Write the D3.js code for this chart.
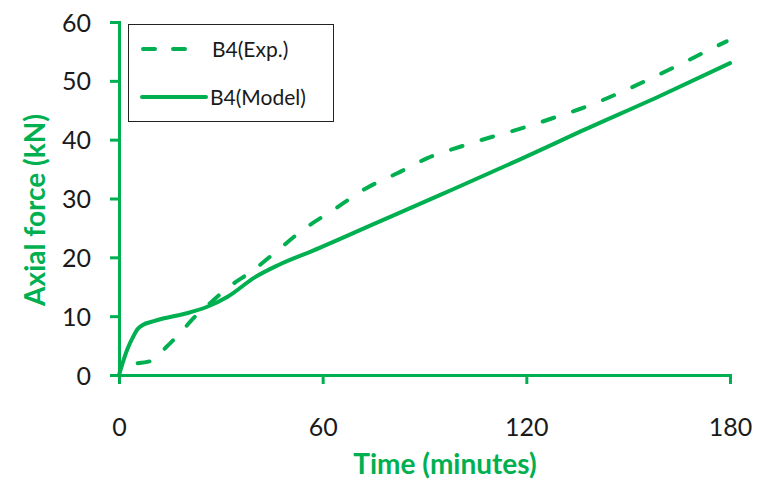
<!DOCTYPE html>
<html>
<head>
<meta charset="utf-8">
<script src="https://cdn.jsdelivr.net/npm/d3@7"></script>
<style>
  html, body { margin: 0; padding: 0; background: #fff; }
  svg { display: block; }
  text { font-family: Lato, "Open Sans", sans-serif; }
</style>
</head>
<body>
<svg id="chart" width="770" height="480"></svg>
<script>
// ---- data ----
const xTicks = [0, 60, 120, 180];
const yTicks = [0, 10, 20, 30, 40, 50, 60];
const seriesNames = ["B4(Exp.)", "B4(Model)"];

const expTime  = [5.5, 10, 14, 18, 22, 27, 32, 39.5, 47, 54, 63, 73, 82, 91, 100.5, 110, 119, 129, 139, 148, 157, 166, 175, 179];
const expForce = [2.0, 2.5, 4.8, 7.1, 9.7, 12.3, 14.8, 17.8, 21.3, 24.6, 28.0, 31.8, 34.3, 36.9, 38.8, 40.5, 42.0, 43.9, 45.9, 48.1, 50.5, 53.0, 55.6, 56.7];

const modelTime  = [0, 2.4, 4, 5.5, 7, 10, 13, 20, 26, 32, 40, 47, 57, 76, 95, 118, 136, 160, 180];
const modelForce = [0, 4.3, 6.3, 7.8, 8.5, 9.1, 9.6, 10.5, 11.6, 13.3, 16.6, 18.7, 21.1, 25.9, 30.7, 36.6, 41.4, 47.6, 53.0];

// ---- layout ----
const green = "#00B050";
const svg = d3.select("#chart");
const x = d3.scaleLinear().domain([0, 180]).range([119, 730]);
const y = d3.scaleLinear().domain([0, 60]).range([375, 22]);

const expData = expTime.map((t, i) => [t, expForce[i]]);
const modelData = modelTime.map((t, i) => [t, modelForce[i]]);

// axes
const yAxis = svg.append("g").attr("transform", `translate(${x(0)},0)`)
  .call(d3.axisLeft(y).tickValues(yTicks).tickSize(9).tickSizeOuter(9).tickPadding(19).tickFormat(d3.format("d")));
const xAxis = svg.append("g").attr("transform", `translate(0,${y(0)})`)
  .call(d3.axisBottom(x).tickValues(xTicks).tickSize(9).tickSizeOuter(9).tickPadding(34).tickFormat(d3.format("d")));

[yAxis, xAxis].forEach(g => {
  g.select(".domain").attr("stroke", green).attr("stroke-width", 3);
  g.selectAll(".tick line").attr("stroke", green).attr("stroke-width", 3);
  g.selectAll(".tick text").attr("fill", "#1a1a1a").style("font-size", "25px")
    .style("font-family", "Lato, 'Open Sans', sans-serif");
});
yAxis.selectAll(".tick text").attr("dy", "0.36em");

// lines
const line = d3.line().x(d => x(d[0])).y(d => y(d[1])).curve(d3.curveMonotoneX);

svg.append("path").datum(modelData)
  .attr("d", line).attr("fill", "none").attr("stroke", green)
  .attr("stroke-width", 4).attr("stroke-linejoin", "round").attr("stroke-linecap", "round");

svg.append("path").datum(expData)
  .attr("d", line).attr("fill", "none").attr("stroke", green)
  .attr("stroke-width", 4).attr("stroke-dasharray", "12,20").attr("stroke-linecap", "round");

// axis titles
svg.append("text").attr("x", 445).attr("y", 474).attr("text-anchor", "middle")
  .attr("fill", green).style("font-size", "28px").style("font-weight", "bold")
  .text("Time (minutes)");

svg.append("text").attr("transform", "translate(45,210) rotate(-90)").attr("text-anchor", "middle")
  .attr("fill", green).style("font-size", "28px").style("font-weight", "bold")
  .text("Axial force (kN)");

// legend
const lg = svg.append("g");
lg.append("rect").attr("x", 128.5).attr("y", 24.5).attr("width", 205).attr("height", 97)
  .attr("fill", "#fff").attr("stroke", "#222").attr("stroke-width", 1);
lg.append("line").attr("x1", 143).attr("x2", 191).attr("y1", 49).attr("y2", 49)
  .attr("stroke", green).attr("stroke-width", 4).attr("stroke-dasharray", "12,18").attr("stroke-linecap", "round");
lg.append("line").attr("x1", 142).attr("x2", 206).attr("y1", 97).attr("y2", 97)
  .attr("stroke", green).attr("stroke-width", 4).attr("stroke-linecap", "round");
lg.append("text").attr("x", 212).attr("y", 57).attr("fill", "#1a1a1a").style("font-size", "21px").text(seriesNames[0]);
lg.append("text").attr("x", 210).attr("y", 105).attr("fill", "#1a1a1a").style("font-size", "21px").text(seriesNames[1]);
</script>
</body>
</html>
